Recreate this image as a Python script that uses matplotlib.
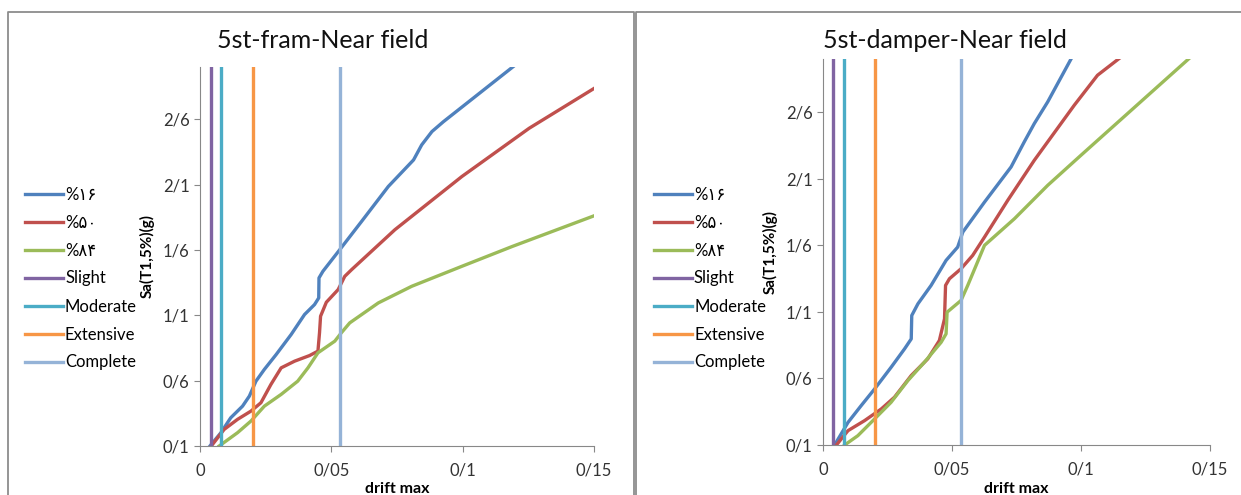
import matplotlib
matplotlib.use("Agg")
import matplotlib.pyplot as plt
from matplotlib.lines import Line2D

plt.rcParams['font.family'] = ['Lato', 'DejaVu Sans']

# ---- data ----
labels = ["%\u06f1\u06f6", "%\u06f5\u06f0", "%\u06f8\u06f4"]
limit_names = ["Slight", "Moderate", "Extensive", "Complete"]
limits = [0.004, 0.008, 0.02, 0.0533]

# frame (left panel)
fram_x16 = [0.0038, 0.0079, 0.0117, 0.0162, 0.0188, 0.0213, 0.0245, 0.029, 0.0347, 0.0398,
            0.0436, 0.0452, 0.0453, 0.0468, 0.0532, 0.0615, 0.0717, 0.0813, 0.0844, 0.0883,
            0.0927, 0.1195]
fram_y16 = [0.1, 0.2, 0.316, 0.405, 0.482, 0.596, 0.686, 0.80, 0.953, 1.106,
            1.182, 1.233, 1.386, 1.437, 1.602, 1.818, 2.086, 2.289, 2.404, 2.506,
            2.582, 3.007]
fram_x50 = [0.0043, 0.0092, 0.0143, 0.0194, 0.0232, 0.027, 0.0309, 0.036, 0.0417, 0.0449,
            0.0455, 0.0459, 0.0481, 0.0526, 0.0551, 0.0577, 0.0742, 0.0997, 0.1253, 0.1501]
fram_y50 = [0.1, 0.227, 0.304, 0.367, 0.431, 0.571, 0.698, 0.749, 0.792, 0.826,
            0.966, 1.093, 1.2, 1.297, 1.398, 1.449, 1.755, 2.162, 2.531, 2.837]
fram_x84 = [0.0073, 0.0143, 0.0194, 0.0245, 0.0309, 0.0372, 0.0411, 0.0449, 0.0513, 0.0538,
            0.057, 0.0679, 0.0806, 0.0997, 0.1189, 0.1501]
fram_y84 = [0.1, 0.202, 0.291, 0.405, 0.495, 0.596, 0.698, 0.813, 0.902, 0.966,
            1.042, 1.195, 1.322, 1.475, 1.627, 1.862]

# damper (right panel)
damp_x16 = [0.0045, 0.0097, 0.0148, 0.02, 0.0264, 0.0316, 0.0342, 0.0344, 0.0368, 0.0419,
            0.0477, 0.0522, 0.0542, 0.0626, 0.0729, 0.078, 0.0819, 0.0871, 0.0961]
damp_y16 = [0.1, 0.27, 0.396, 0.521, 0.684, 0.822, 0.897, 1.073, 1.161, 1.299,
            1.487, 1.587, 1.7, 1.925, 2.189, 2.377, 2.515, 2.678, 2.999]
damp_x50 = [0.0052, 0.0097, 0.0161, 0.0226, 0.0277, 0.0342, 0.0406, 0.0451, 0.0471, 0.0475,
            0.049, 0.0535, 0.058, 0.0626, 0.0716, 0.0819, 0.0974, 0.1064, 0.1148]
damp_y50 = [0.1, 0.208, 0.283, 0.371, 0.459, 0.622, 0.747, 0.885, 1.048, 1.299,
            1.349, 1.424, 1.524, 1.662, 1.938, 2.239, 2.653, 2.878, 3.004]
damp_x84 = [0.0084, 0.0135, 0.02, 0.0264, 0.0329, 0.0393, 0.0458, 0.0477, 0.0481, 0.0535,
            0.0561, 0.0626, 0.0742, 0.0871, 0.1, 0.1419]
damp_y84 = [0.1, 0.17, 0.296, 0.421, 0.584, 0.722, 0.872, 0.935, 1.098, 1.186,
            1.299, 1.6, 1.8, 2.051, 2.277, 3.004]

xticks = [0, 0.05, 0.1, 0.15]
xticklabels = ["0", "0/05", "0/1", "0/15"]
yticks = [0.1, 0.6, 1.1, 1.6, 2.1, 2.6]
yticklabels = ["0/1", "0/6", "1/1", "1/6", "2/1", "2/6"]

curve_colors = ["#4F81BD", "#C0504D", "#9BBB59"]
limit_colors = ["#8064A2", "#4BACC6", "#F79646", "#95B3D7"]

W, H = 1241, 495
fig = plt.figure(figsize=(W / 100, H / 100), dpi=100)


def px(x0, y0, x1, y1):
    return [x0 / W, 1 - y1 / H, (x1 - x0) / W, (y1 - y0) / H]


def panel(rect, title, tx, ty, leg_x, curves):
    ax = fig.add_axes(px(*rect))
    for (xs, ys), c, lab in zip(curves, curve_colors, labels):
        ax.plot(xs, ys, color=c, lw=2.4, label=lab, solid_joinstyle='round')
    for v, c, lab in zip(limits, limit_colors, limit_names):
        ax.axvline(v, color=c, lw=2.4, label=lab)
    ax.set_xlim(0, 0.15)
    ax.set_ylim(0.1, 3.0)
    ax.set_xticks(xticks)
    ax.set_xticklabels(xticklabels)
    ax.set_yticks(yticks)
    ax.set_yticklabels(yticklabels)
    for s in ["top", "right"]:
        ax.spines[s].set_visible(False)
    for s in ["left", "bottom"]:
        ax.spines[s].set_color("#888888")
    ax.tick_params(colors="#888888", labelcolor="#333333", labelsize=12, length=4)
    ax.tick_params(axis='x', pad=8)
    ax.set_ylabel("Sa(T1,5%)(g)", fontsize=11, fontweight="bold")
    ax.yaxis.set_label_coords(-45 / (rect[2] - rect[0]), 0.5)
    ax.set_xlabel("drift max", fontsize=11.5, fontweight="bold", va="center")
    ax.xaxis.set_label_coords(0.5, -(489 - rect[3]) / (rect[3] - rect[1]))
    fig.text(tx / W, 1 - ty / H, title, fontsize=18, ha="center", va="center", color="#111111")
    ax.legend(loc="center left", bbox_to_anchor=(leg_x / W, 1 - 278.5 / H),
              bbox_transform=fig.transFigure, frameon=False, fontsize=12,
              handlelength=2.3, handletextpad=0.1, labelspacing=0.72,
              borderpad=0, borderaxespad=0)
    return ax


panel((200, 67, 594, 446), "5st-fram-Near field", 323, 40, 25,
      [(fram_x16, fram_y16), (fram_x50, fram_y50), (fram_x84, fram_y84)])
panel((823, 59, 1210, 445), "5st-damper-Near field", 945, 41, 654,
      [(damp_x16, damp_y16), (damp_x50, damp_y50), (damp_x84, damp_y84)])

# chart borders
bc = "#8c8c8c"
fig.add_artist(Line2D([8 / W, 8 / W, 634 / W, 634 / W], [0, 1 - 12 / H, 1 - 12 / H, 0],
                      color=bc, lw=1.3))
fig.add_artist(Line2D([636 / W, 636 / W, 1], [0, 1 - 12 / H, 1 - 12 / H],
                      color=bc, lw=1.3))

fig.savefig("out.png", dpi=100)
